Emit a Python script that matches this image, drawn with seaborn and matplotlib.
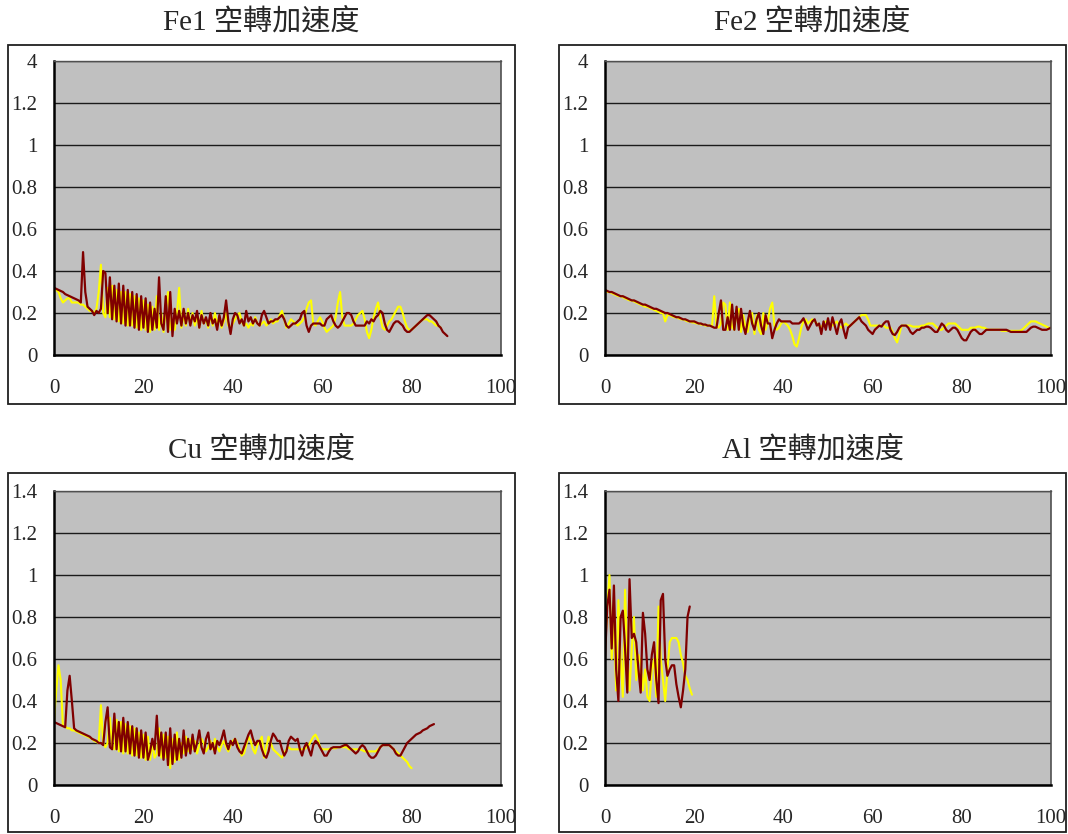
import numpy as np
import matplotlib
matplotlib.use("Agg")
import matplotlib.pyplot as plt
from matplotlib.patches import Rectangle
import seaborn as sns

# ── data (sampled every 0.5 on the x axis) ────────────────────────────────────
STEP = 0.5

titles = ["Fe1 空轉加速度", "Fe2 空轉加速度", "Cu 空轉加速度", "Al 空轉加速度"]
y_ticks = [0, 0.2, 0.4, 0.6, 0.8, 1.0, 1.2, 1.4]
top_ylabels = ["0", "0.2", "0.4", "0.6", "0.8", "1", "1.2", "4"]
bottom_ylabels = ["0", "0.2", "0.4", "0.6", "0.8", "1", "1.2", "1.4"]
x_ticks = [0, 20, 40, 60, 80, 100]

fe1_red = [
    0.32, 0.315, 0.31, 0.305, 0.30, 0.29, 0.285, 0.28, 0.275, 0.27,
    0.265, 0.26, 0.25, 0.49, 0.30, 0.23, 0.22, 0.21, 0.19, 0.21,
    0.20, 0.22, 0.40, 0.39, 0.20, 0.37, 0.17, 0.33, 0.16, 0.34,
    0.15, 0.33, 0.14, 0.31, 0.14, 0.30, 0.13, 0.29, 0.12, 0.28,
    0.13, 0.27, 0.11, 0.25, 0.12, 0.22, 0.13, 0.37, 0.15, 0.12,
    0.28, 0.11, 0.30, 0.09, 0.22, 0.15, 0.21, 0.14, 0.22, 0.15,
    0.20, 0.14, 0.19, 0.16, 0.21, 0.13, 0.19, 0.15, 0.18, 0.14,
    0.20, 0.15, 0.17, 0.12, 0.19, 0.14, 0.18, 0.26, 0.16, 0.10,
    0.17, 0.20, 0.19, 0.15, 0.17, 0.14, 0.21, 0.16, 0.18, 0.15,
    0.17, 0.15, 0.14, 0.19, 0.21, 0.18, 0.15, 0.16, 0.16, 0.17,
    0.17, 0.18, 0.19, 0.17, 0.14, 0.13, 0.14, 0.15, 0.15, 0.16,
    0.17, 0.20, 0.21, 0.14, 0.11, 0.14, 0.15, 0.15, 0.15, 0.15,
    0.14, 0.14, 0.17, 0.18, 0.19, 0.16, 0.14, 0.13, 0.14, 0.16,
    0.18, 0.20, 0.20, 0.19, 0.16, 0.14, 0.14, 0.14, 0.14, 0.14,
    0.16, 0.15, 0.17, 0.16, 0.18, 0.19, 0.21, 0.20, 0.15, 0.12,
    0.11, 0.13, 0.15, 0.16, 0.16, 0.15, 0.14, 0.12, 0.11, 0.11,
    0.12, 0.13, 0.14, 0.15, 0.16, 0.17, 0.18, 0.19, 0.19, 0.18,
    0.17, 0.16, 0.14, 0.13, 0.11, 0.10, 0.09,
]
fe1_yellow = [
    0.32, 0.31, 0.30, 0.27, 0.25, 0.26, 0.27, 0.27, 0.25, 0.25,
    0.25, 0.25, 0.24, 0.24, 0.23, 0.22, 0.21, 0.21, 0.20, 0.22,
    0.30, 0.43, 0.20, 0.18, 0.32, 0.18, 0.33, 0.17, 0.31, 0.16,
    0.30, 0.15, 0.30, 0.14, 0.29, 0.14, 0.28, 0.13, 0.27, 0.12,
    0.26, 0.12, 0.24, 0.11, 0.23, 0.12, 0.28, 0.12, 0.20, 0.11,
    0.22, 0.30, 0.12, 0.16, 0.12, 0.20, 0.32, 0.13, 0.19, 0.14,
    0.22, 0.15, 0.20, 0.14, 0.18, 0.13, 0.21, 0.15, 0.17, 0.13,
    0.19, 0.14, 0.20, 0.15, 0.18, 0.13, 0.16, 0.20, 0.14, 0.13,
    0.15, 0.17, 0.19, 0.20, 0.16, 0.14, 0.15, 0.13, 0.15, 0.14,
    0.18, 0.15, 0.14, 0.15, 0.16, 0.14, 0.15, 0.17, 0.15, 0.16,
    0.16, 0.19, 0.21, 0.17, 0.13, 0.15, 0.17, 0.16, 0.15, 0.14,
    0.15, 0.16, 0.18, 0.22, 0.25, 0.26, 0.15, 0.14, 0.16, 0.18,
    0.16, 0.13, 0.11, 0.12, 0.13, 0.14, 0.18, 0.25, 0.30, 0.18,
    0.14, 0.14, 0.14, 0.14, 0.15, 0.17, 0.19, 0.20, 0.21, 0.17,
    0.11, 0.08, 0.12, 0.18, 0.22, 0.25, 0.18, 0.13, 0.12, 0.14,
    0.16, 0.17, 0.19, 0.21, 0.23, 0.23, 0.20, 0.16, 0.13, 0.12,
    0.12, 0.13, 0.14, 0.15, 0.16, 0.17, 0.17, 0.17, 0.16, 0.16,
    0.15, 0.14, 0.14, 0.13,
]

fe2_red = [
    0.31, 0.305, 0.30, 0.30, 0.295, 0.29, 0.285, 0.28, 0.28, 0.275,
    0.27, 0.265, 0.26, 0.26, 0.255, 0.25, 0.245, 0.24, 0.24, 0.235,
    0.23, 0.225, 0.22, 0.22, 0.215, 0.21, 0.205, 0.20, 0.20, 0.195,
    0.19, 0.185, 0.18, 0.18, 0.175, 0.17, 0.17, 0.165, 0.16, 0.16,
    0.16, 0.155, 0.15, 0.15, 0.145, 0.145, 0.14, 0.14, 0.135, 0.13,
    0.13, 0.20, 0.26, 0.12, 0.12, 0.18, 0.12, 0.24, 0.12, 0.23,
    0.12, 0.22, 0.14, 0.10, 0.16, 0.21, 0.15, 0.12, 0.17, 0.20,
    0.14, 0.10, 0.19, 0.15, 0.15, 0.08, 0.12, 0.15, 0.17, 0.16,
    0.16, 0.16, 0.16, 0.16, 0.15, 0.15, 0.15, 0.15, 0.16, 0.175,
    0.15, 0.12, 0.14, 0.16, 0.17, 0.14, 0.15, 0.10, 0.16, 0.12,
    0.175, 0.12, 0.18, 0.14, 0.10, 0.15, 0.17, 0.12, 0.08, 0.13,
    0.14, 0.15, 0.16, 0.17, 0.18, 0.16, 0.15, 0.14, 0.12, 0.11,
    0.10, 0.12, 0.13, 0.14, 0.135, 0.15, 0.16, 0.16, 0.12, 0.10,
    0.095, 0.11, 0.13, 0.14, 0.14, 0.14, 0.13, 0.11, 0.10, 0.11,
    0.12, 0.12, 0.13, 0.13, 0.135, 0.135, 0.13, 0.12, 0.11, 0.11,
    0.13, 0.15, 0.14, 0.12, 0.11, 0.12, 0.13, 0.13, 0.12, 0.10,
    0.08, 0.07, 0.07, 0.09, 0.11, 0.12, 0.12, 0.11, 0.10, 0.10,
    0.11, 0.12, 0.12, 0.12, 0.12, 0.12, 0.12, 0.12, 0.12, 0.12,
    0.12, 0.115, 0.11, 0.11, 0.11, 0.11, 0.11, 0.11, 0.11, 0.11,
    0.12, 0.13, 0.135, 0.135, 0.13, 0.125, 0.12, 0.12, 0.12, 0.125,
    0.13,
]
fe2_yellow = [
    0.31, 0.30, 0.30, 0.295, 0.29, 0.285, 0.28, 0.28, 0.275, 0.27,
    0.265, 0.26, 0.26, 0.255, 0.25, 0.245, 0.24, 0.235, 0.23, 0.23,
    0.225, 0.22, 0.215, 0.21, 0.205, 0.20, 0.20, 0.16, 0.19, 0.19,
    0.185, 0.18, 0.18, 0.175, 0.17, 0.17, 0.165, 0.16, 0.16, 0.155,
    0.155, 0.15, 0.15, 0.145, 0.145, 0.14, 0.14, 0.14, 0.135, 0.28,
    0.14, 0.13, 0.15, 0.25, 0.24, 0.12, 0.25, 0.13, 0.12, 0.20,
    0.22, 0.11, 0.19, 0.13, 0.11, 0.18, 0.20, 0.10, 0.19, 0.12,
    0.10, 0.20, 0.12, 0.16, 0.22, 0.25, 0.14, 0.12, 0.13, 0.15,
    0.16, 0.15, 0.14, 0.12, 0.09, 0.05, 0.04, 0.08, 0.13, 0.16,
    0.17, 0.15, 0.16, 0.17, 0.16, 0.15, 0.14, 0.13, 0.15, 0.16,
    0.16, 0.15, 0.14, 0.15, 0.16, 0.14, 0.13, 0.14, 0.15, 0.14,
    0.14, 0.15, 0.16, 0.17, 0.18, 0.19, 0.19, 0.19, 0.17, 0.14,
    0.14, 0.14, 0.14, 0.14, 0.14, 0.14, 0.13, 0.13, 0.13, 0.11,
    0.08, 0.06, 0.10, 0.14, 0.14, 0.14, 0.14, 0.14, 0.135, 0.135,
    0.135, 0.135, 0.14, 0.14, 0.145, 0.15, 0.15, 0.15, 0.14, 0.13,
    0.12, 0.12, 0.13, 0.14, 0.15, 0.15, 0.15, 0.15, 0.14, 0.13,
    0.12, 0.12, 0.12, 0.12, 0.13, 0.13, 0.13, 0.135, 0.135, 0.13,
    0.13, 0.125, 0.12, 0.12, 0.12, 0.12, 0.12, 0.12, 0.115, 0.115,
    0.115, 0.115, 0.115, 0.115, 0.115, 0.115, 0.115, 0.12, 0.13, 0.14,
    0.15, 0.16, 0.16, 0.16, 0.155, 0.15, 0.145, 0.14, 0.135, 0.13,
    0.13,
]

cu_red = [
    0.30, 0.295, 0.29, 0.285, 0.28, 0.275, 0.45, 0.52, 0.40, 0.27,
    0.26, 0.255, 0.25, 0.245, 0.24, 0.235, 0.23, 0.22, 0.215, 0.21,
    0.20, 0.20, 0.19, 0.30, 0.37, 0.18, 0.17, 0.34, 0.17, 0.30,
    0.16, 0.32, 0.16, 0.30, 0.15, 0.28, 0.14, 0.27, 0.13, 0.26,
    0.13, 0.25, 0.12, 0.16, 0.22, 0.17, 0.33, 0.14, 0.25, 0.12,
    0.25, 0.095, 0.27, 0.10, 0.24, 0.12, 0.22, 0.13, 0.26, 0.14,
    0.22, 0.15, 0.24, 0.16, 0.20, 0.26, 0.18, 0.15, 0.22, 0.25,
    0.17, 0.20, 0.15, 0.21, 0.19, 0.22, 0.26, 0.20, 0.17, 0.21,
    0.19, 0.22, 0.18, 0.16, 0.15, 0.18, 0.21, 0.24, 0.26, 0.22,
    0.19, 0.21, 0.21, 0.17, 0.14, 0.13, 0.16, 0.21, 0.245, 0.23,
    0.21, 0.21, 0.17, 0.14, 0.16, 0.21, 0.23, 0.22, 0.21, 0.22,
    0.17, 0.14, 0.18, 0.20, 0.17, 0.14, 0.19, 0.21, 0.20, 0.18,
    0.16, 0.14, 0.14, 0.16, 0.175, 0.18, 0.18, 0.18, 0.18, 0.185,
    0.19, 0.19, 0.18, 0.17, 0.16, 0.15, 0.16, 0.18, 0.19, 0.18,
    0.16, 0.14, 0.13, 0.13, 0.14, 0.16, 0.18, 0.19, 0.19, 0.19,
    0.19, 0.18, 0.17, 0.15, 0.14, 0.14, 0.16, 0.18, 0.20, 0.21,
    0.22, 0.23, 0.24, 0.245, 0.25, 0.26, 0.265, 0.27, 0.28, 0.285,
    0.29,
]
cu_yellow = [
    0.30, 0.45, 0.57, 0.50, 0.28, 0.28, 0.27, 0.27, 0.26, 0.26,
    0.255, 0.25, 0.245, 0.24, 0.235, 0.23, 0.225, 0.22, 0.21, 0.205,
    0.20, 0.38, 0.20, 0.18, 0.20, 0.32, 0.18, 0.17, 0.31, 0.16,
    0.30, 0.15, 0.29, 0.15, 0.28, 0.14, 0.27, 0.14, 0.25, 0.13,
    0.24, 0.12, 0.23, 0.12, 0.20, 0.13, 0.15, 0.27, 0.13, 0.24,
    0.13, 0.23, 0.08, 0.22, 0.11, 0.25, 0.12, 0.20, 0.15, 0.23,
    0.16, 0.22, 0.17, 0.21, 0.15, 0.19, 0.22, 0.20, 0.16, 0.18,
    0.21, 0.17, 0.22, 0.18, 0.16, 0.19, 0.21, 0.18, 0.16, 0.19,
    0.21, 0.22, 0.20, 0.17, 0.14, 0.15, 0.19, 0.23, 0.21, 0.17,
    0.15, 0.19, 0.21, 0.23, 0.13, 0.18, 0.23, 0.20, 0.17, 0.16,
    0.15, 0.14, 0.13, 0.15, 0.17, 0.18, 0.17, 0.17, 0.17, 0.17,
    0.17, 0.17, 0.17, 0.18, 0.19, 0.21, 0.23, 0.24, 0.22, 0.18,
    0.17, 0.17, 0.17, 0.17, 0.175, 0.175, 0.175, 0.18, 0.18, 0.18,
    0.18, 0.18, 0.17, 0.17, 0.17, 0.17, 0.17, 0.17, 0.165, 0.16,
    0.16, 0.16, 0.16, 0.16, 0.16, 0.17, 0.18, 0.19, 0.19, 0.19,
    0.19, 0.18, 0.17, 0.16, 0.15, 0.14, 0.13, 0.12, 0.11, 0.09,
    0.08,
]

al_red = [
    0.60, 0.85, 0.93, 0.65, 0.95, 0.55, 0.40, 0.80, 0.83, 0.65,
    0.44, 0.98, 0.70, 0.72, 0.68, 0.55, 0.44, 0.82, 0.72, 0.55,
    0.50, 0.62, 0.68, 0.50, 0.39, 0.88, 0.91, 0.60, 0.52, 0.55,
    0.57, 0.57, 0.48, 0.42, 0.37, 0.45, 0.55, 0.80, 0.85,
]
al_yellow = [
    0.65, 0.85, 1.00, 0.60, 0.80, 0.45, 0.88, 0.60, 0.42, 0.93,
    0.60, 0.45, 0.65, 0.80, 0.50, 0.62, 0.58, 0.45, 0.55, 0.42,
    0.40, 0.55, 0.60, 0.42, 0.85, 0.60, 0.50, 0.40, 0.55, 0.68,
    0.70, 0.70, 0.70, 0.68, 0.62, 0.58, 0.52, 0.50, 0.46, 0.43,
]

# ── style ─────────────────────────────────────────────────────────────────────
RED = "#800000"
YELLOW = "#FFFF00"
PLOT_BG = "#C0C0C0"
W, H = 1068, 834

sns.set_style("white")
plt.rcParams["font.family"] = ["Liberation Serif", "Noto Sans CJK TC"]


def fx(px):
    return px / W


def fy(py):
    return 1 - py / H


# (axes box in px: left, top, right, bottom), (panel frame in px)
panels = [
    ((54, 61, 501, 355), (8, 45, 515, 404), fe1_yellow, fe1_red, top_ylabels),
    ((605, 61, 1051, 355), (559, 45, 1066, 404), fe2_yellow, fe2_red, top_ylabels),
    ((54, 491, 501, 785), (8, 473, 515, 832), cu_yellow, cu_red, bottom_ylabels),
    ((605, 491, 1051, 785), (559, 473, 1066, 832), al_yellow, al_red, bottom_ylabels),
]
title_y = [22, 22, 450, 450]

fig = plt.figure(figsize=(W / 100, H / 100), dpi=100)

for i, (box, frame, yel, red, ylabels) in enumerate(panels):
    l, t, r, b = box
    ax = fig.add_axes([fx(l), fy(b), fx(r - l), (b - t) / H])
    ax.set_facecolor(PLOT_BG)

    x_y = np.arange(len(yel)) * STEP
    x_r = np.arange(len(red)) * STEP
    sns.lineplot(x=x_y, y=yel, ax=ax, color=YELLOW, lw=1.5, legend=False)
    sns.lineplot(x=x_r, y=red, ax=ax, color=RED, lw=1.6, legend=False)

    ax.set_xlim(0, 100)
    ax.set_ylim(0, 1.4)
    ax.set_xticks(x_ticks)
    ax.set_xticklabels([str(v) for v in x_ticks])
    ax.set_yticks(y_ticks)
    ax.set_yticklabels(ylabels)
    ax.set_xlabel("")
    ax.set_ylabel("")

    ax.yaxis.grid(True, color="#1a1a1a", lw=1.0)
    ax.xaxis.grid(False)
    ax.set_axisbelow(True)

    ax.spines["left"].set_color("black")
    ax.spines["left"].set_linewidth(1.8)
    ax.spines["bottom"].set_color("black")
    ax.spines["bottom"].set_linewidth(1.8)
    ax.spines["top"].set_color("#505050")
    ax.spines["top"].set_linewidth(1.0)
    ax.spines["right"].set_color("#505050")
    ax.spines["right"].set_linewidth(1.2)

    ax.tick_params(axis="x", direction="in", length=4, width=1, color="#404040",
                   pad=17, labelsize=15)
    ax.tick_params(axis="y", length=0, pad=12, labelsize=15)

    # panel frame
    fl, ft, fr, fb = frame
    fig.patches.append(Rectangle((fx(fl), fy(fb)), fx(fr - fl), (fb - ft) / H,
                                 transform=fig.transFigure, fill=False,
                                 edgecolor="#202020", lw=1.3))
    fig.text(fx((fl + fr) / 2), fy(title_y[i]), titles[i], ha="center",
             va="center", fontsize=21)

fig.savefig("out.png", dpi=100)
